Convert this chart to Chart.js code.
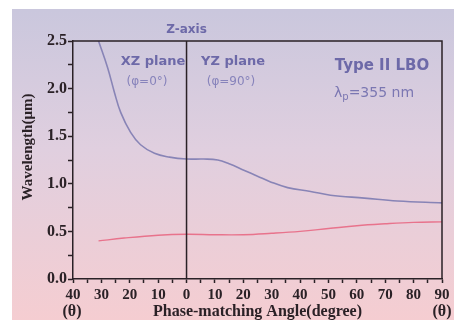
<!DOCTYPE html>
<html>
<head>
<meta charset="utf-8">
<script src="https://cdn.jsdelivr.net/npm/chart.js@4/dist/chart.umd.min.js"></script>
<style>
  body { margin: 0; background: #fff; }
  canvas { display: block; }
</style>
</head>
<body>
<canvas id="lbo" width="454" height="320"></canvas>
<script>
// phase-matching angle (theta), negative = XZ plane side, positive = YZ plane side
var upperAngle = [-31, -27.8, -25.4, -23.2, -19.7, -16.2, -11.3, -6, 0, 6, 11, 15, 20.4, 25, 29.6, 35.6, 43.7, 50.7, 62.7, 74.3, 90],
    upperWl    = [2.5, 2.22, 1.96, 1.75, 1.54, 1.41, 1.32, 1.28, 1.26, 1.26, 1.25, 1.21, 1.14, 1.08, 1.02, 0.96, 0.92, 0.88, 0.85, 0.82, 0.80],
    lowerAngle = [-31, -22, -10, 0, 10, 20, 30, 40, 50, 60, 70, 80, 90],
    lowerWl    = [0.40, 0.43, 0.46, 0.47, 0.465, 0.465, 0.48, 0.50, 0.53, 0.56, 0.58, 0.595, 0.60],
    xTickStep = 5,
    yTickStep = 0.25;

var ink = '#2a2126',
    purple = '#6d69a8',
    serif = '"Liberation Serif", "DejaVu Serif", serif',
    sans = '"DejaVu Sans", sans-serif';

function toPoints(xs, ys) {
    var pts = [];
    for (var i = 0; i < xs.length; i++) {
        pts.push({ x: xs[i], y: ys[i] });
    }
    return pts;
}

var decor = {
    id: 'decor',
    beforeDraw: function (chart) {
        var ctx = chart.ctx;
        ctx.save();
        ctx.fillStyle = '#ffffff';
        ctx.fillRect(0, 0, chart.width, chart.height);
        var g = ctx.createLinearGradient(0, 10, 0, chart.height);
        g.addColorStop(0, '#cac7dd');
        g.addColorStop(0.45, '#e0cfdf');
        g.addColorStop(1, '#f5cdd1');
        ctx.fillStyle = g;
        ctx.fillRect(12, 9, chart.width - 12, chart.height - 9);
        ctx.restore();
    },
    afterDatasetsDraw: function (chart) {
        var ctx = chart.ctx,
            a = chart.chartArea,
            x0 = chart.scales.x.getPixelForValue(0);
        ctx.save();
        ctx.strokeStyle = ink;
        ctx.lineWidth = 1.5;
        ctx.beginPath();
        ctx.moveTo(a.left, a.top);
        ctx.lineTo(a.right, a.top);
        ctx.lineTo(a.right, a.bottom);
        ctx.moveTo(x0, a.top);
        ctx.lineTo(x0, a.bottom);
        ctx.stroke();

        ctx.textAlign = 'center';
        ctx.textBaseline = 'middle';
        ctx.fillStyle = purple;
        ctx.font = 'bold 12px ' + sans;
        ctx.fillText('Z-axis', x0, 30);
        ctx.font = 'bold 13px ' + sans;
        ctx.fillText('XZ plane', 153, 62);
        ctx.fillText('YZ plane', 233, 62);
        ctx.fillStyle = '#8783bb';
        ctx.font = '12px ' + sans;
        ctx.fillText('(\u03c6=0\u00b0)', 147, 82);
        ctx.fillText('(\u03c6=90\u00b0)', 231, 82);
        ctx.fillStyle = purple;
        ctx.font = 'bold 15px ' + sans;
        ctx.fillText('Type II LBO', 382, 66);

        ctx.textAlign = 'left';
        ctx.fillStyle = '#7b77b2';
        ctx.font = '14px ' + sans;
        var x = 334;
        ctx.fillText('\u03bb', x, 93);
        x += ctx.measureText('\u03bb').width;
        ctx.font = '10px ' + sans;
        ctx.fillText('p', x, 97);
        x += ctx.measureText('p').width;
        ctx.font = '14px ' + sans;
        ctx.fillText('=355 nm', x, 93);

        ctx.fillStyle = ink;
        ctx.textAlign = 'center';
        ctx.font = 'bold 16px ' + serif;
        ctx.fillText('Phase-matching Angle(degree)', (a.left + a.right) / 2, 312);
        ctx.fillText('(\u03b8)', 72, 312);
        ctx.fillText('(\u03b8)', 442, 312);

        ctx.translate(28, 147);
        ctx.rotate(-Math.PI / 2);
        ctx.font = 'bold 15px ' + serif;
        ctx.fillText('Wavelength(\u03bcm)', 0, 0);
        ctx.restore();
    }
};

new Chart(document.getElementById('lbo').getContext('2d'), {
    type: 'line',
    data: {
        datasets: [
            {
                data: toPoints(upperAngle, upperWl),
                borderColor: '#8884b6',
                borderWidth: 1.6,
                pointRadius: 0,
                tension: 0.4,
                fill: false
            },
            {
                data: toPoints(lowerAngle, lowerWl),
                borderColor: '#e8738c',
                borderWidth: 1.4,
                pointRadius: 0,
                tension: 0.4,
                fill: false
            }
        ]
    },
    options: {
        responsive: false,
        animation: false,
        events: [],
        layout: { padding: { left: 12, right: 12, top: 41, bottom: 0 } },
        plugins: { legend: { display: false }, tooltip: { enabled: false } },
        scales: {
            x: {
                type: 'linear',
                min: -40,
                max: 90,
                afterFit: function (s) { s.height = 41; },
                border: { color: ink, width: 1.5 },
                grid: { drawOnChartArea: false, tickLength: 4, color: ink, tickWidth: 1.5 },
                ticks: {
                    stepSize: xTickStep,
                    autoSkip: false,
                    maxRotation: 0,
                    padding: 3,
                    color: ink,
                    font: { family: serif, size: 15, weight: 'bold' },
                    callback: function (v) { return v % 10 === 0 ? String(Math.abs(v)) : ''; }
                }
            },
            y: {
                min: 0,
                max: 2.5,
                afterFit: function (s) { s.width = 61; },
                border: { color: ink, width: 1.5 },
                grid: { drawOnChartArea: false, tickLength: 5, color: ink, tickWidth: 1.5 },
                ticks: {
                    stepSize: yTickStep,
                    autoSkip: false,
                    padding: 1,
                    color: ink,
                    font: { family: serif, size: 16, weight: 'bold' },
                    callback: function (v) {
                        return Math.abs(v * 2 - Math.round(v * 2)) < 1e-6 ? v.toFixed(1) : '';
                    }
                }
            }
        }
    },
    plugins: [decor]
});
</script>
</body>
</html>
